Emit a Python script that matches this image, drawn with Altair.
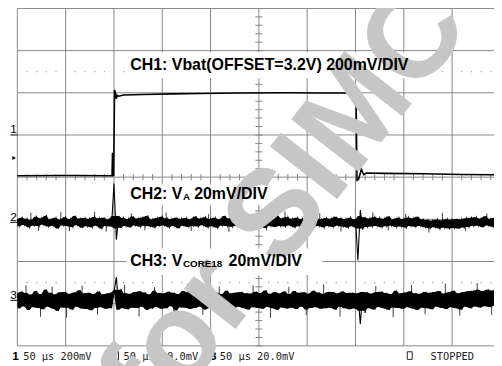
import altair as alt
import pandas as pd

# ---------------- data (time in µs, 50 µs/div; vertical in divisions) ----------------
grid_t = [-250, -200, -150, -100, -50, 0, 50, 100, 150, 200, 250]
grid_div = [-4, -3, -2, -1, 0, 1, 2, 3, 4]
minor_t = [t for t in range(-250, 251, 10) if t % 50 != 0]
minor_div = [round(-4 + 0.2 * k, 1) for k in range(41)]
dot_levels = [2.5, -2.5]

# CH1: Vbat (offset 3.2 V, 200 mV/div), volts
ch1_t = [-250, -200, -152, -151.5, -151.0, -150.3, -149.4, -148.5, -147.6, -146.6, -145,
         -140, -120, -90, -60, -20, 30, 60, 92, 97, 100.6, 101.6, 103.2, 106.1, 108.5,
         111.2, 130, 170, 210, 250]
ch1_v = [3.007, 3.008, 3.007, 3.116, 3.007, 3.008, 3.413, 3.400, 3.372, 3.388, 3.384,
         3.390, 3.392, 3.395, 3.397, 3.399, 3.400, 3.399, 3.399, 3.396, 3.392, 2.985, 2.990,
         3.037, 3.012, 3.020, 3.018, 3.016, 3.013, 3.011]

# CH2 / CH3 samples every 2.5 µs, mV (20 mV/div)
noise_t = [-250 + 2.5 * i for i in range(200)]
ch2_mv = [
    1.4, -1.9, 2.2, -1.3, 1.7, -2.4, 1.1, -1.6, 2.6, -1.8,
    1.9, -1.2, 3.4, -2.0, 1.5, -1.7, 2.1, -2.9, 1.3, -1.5,
    2.4, -1.8, 1.6, -2.2, 3.1, -1.4, 1.8, -2.6, 2.0, -1.9,
    1.7, -2.3, 2.5, -1.6, 1.9, -3.2, 2.2, -1.7, 1.5, -2.0,
    18.4, -8.2, 3.0, -2.6, 2.1, -1.8, 1.6, -2.4, 2.7, -1.5,
    1.8, -2.1, 2.3, -1.6, 3.3, -1.9, 1.4, -2.5, 2.0, -1.7,
    2.6, -1.5, 1.9, -2.3, 1.6, -1.8, 2.2, -2.8, 1.7, -1.6,
    2.0, -2.2, 1.5, -1.7, 2.8, -2.0, 1.8, -1.4, 2.4, -2.3,
    1.6, -1.9, 2.1, -2.6, 1.4, -1.6, 3.0, -1.8, 1.9, -2.1,
    2.3, -1.7, 1.7, -2.4, 2.0, -1.5, 2.6, -2.0, 1.5, -1.9,
    2.2, -1.6, 1.8, -2.7, 2.4, -1.8, 1.6, -2.2, 3.2, -1.7,
    1.9, -2.0, 2.5, -1.5, 1.7, -2.3, 2.1, -1.9, 1.6, -2.5,
    2.7, -1.6, 1.8, -2.1, 2.3, -1.7, 1.5, -2.4, 2.0, -1.8,
    1.7, -2.2, 2.6, -1.6, 1.9, -2.0, 1.6, -2.5, 2.2, -1.9,
    1.5, -18.0, 5.8, -3.5, 2.4, -2.2, 1.8, -2.0, 2.5, -1.7,
    2.0, -2.3, 1.7, -1.9, 2.8, -1.6, 1.5, -2.2, 2.1, -2.0,
    1.6, -2.5, 2.3, -1.8, 1.9, -2.1, 2.6, -1.7, 1.4, -2.3,
    1.1, -2.8, 0.9, -2.4, 1.3, -3.1, 1.0, -2.6, 1.5, -2.9,
    1.2, -2.7, 1.6, -3.0, 1.4, -2.5, 1.9, -2.2, 2.1, -1.8,
    2.4, -1.6, 1.8, -2.3, 2.9, -1.5, 1.7, -2.1, 2.2, -1.8,
]
ch3_mv = [
    3.2, -3.8, 4.1, -2.9, 3.5, -4.6, 2.8, -3.3, 4.4, -3.6,
    3.0, -4.2, 5.2, -3.1, 3.6, -3.9, 2.9, -5.0, 3.8, -3.4,
    4.0, -3.5, 3.1, -4.4, 3.7, -3.0, 4.8, -3.9, 3.3, -4.1,
    3.6, -4.7, 3.0, -3.6, 4.2, -3.3, 2.9, -4.0, 3.4, -3.7,
    3.8, 11.0, -4.5, 5.5, -3.8, 3.4, -4.2, 3.1, -3.5, 3.9,
    -3.6, 4.3, -3.1, 3.7, -4.5, 2.9, -3.9, 4.6, -3.2, 3.5,
    -4.0, 3.3, -3.7, 4.1, -2.8, 3.6, -4.8, 3.0, -3.4, 4.4,
    -3.5, 3.8, -4.1, 3.2, -3.6, 4.9, -3.0, 3.5, -4.3, 3.1,
    -3.8, 4.2, -3.3, 3.6, -4.6, 3.0, -3.5, 4.5, -3.9, 3.3,
    -4.2, 3.7, -3.1, 4.0, -3.7, 3.4, -4.4, 3.2, -3.3, 4.1,
    -3.6, 3.5, -4.0, 4.7, -3.2, 3.1, -3.8, 3.9, -4.5, 3.3,
    -3.4, 4.2, -3.9, 3.0, -3.5, 4.4, -4.1, 3.6, -3.0, 3.8,
    -4.3, 3.2, -3.6, 4.5, -3.3, 3.7, -4.0, 3.1, -3.7, 4.0,
    -3.5, 3.9, -4.4, 3.3, -3.1, 4.2, -3.8, 3.5, -4.2, 3.6,
    -3.9, 3.4, -11.3, 4.0, -6.0, 3.8, -3.7, 3.2, -4.3, 3.9,
    -3.2, 4.1, -3.8, 3.5, -4.5, 3.0, -3.4, 4.6, -3.6, 3.3,
    -4.0, 3.7, -3.3, 4.3, -3.9, 3.4, -4.6, 3.1, -3.5, 4.0,
    -3.7, 3.6, -4.2, 3.9, -3.0, 4.4, -3.6, 3.2, -4.1, 3.8,
    -3.3, 4.5, -3.8, 3.4, -4.4, 3.9, -3.1, 4.3, -3.7, 4.6,
    -2.9, 5.0, -3.4, 4.4, -2.8, 5.2, -3.2, 4.7, -2.6, 4.9,
]
# isolated noise hairs sticking out of the bands (µs, mV)
ch2_hair_t = [-236, -228, -205, -196, -170, -158, -132, -118, -96, -70, -52, -31, -12,
              8, 27, 46, 63, 85, 118, 134, 152, 176, 190, 214, 236]
ch2_hair_mv = [4.5, -4.0, 4.8, -4.2, 5.0, -4.4, 4.2, -3.8, 4.6, -4.1, 3.9, -4.6, 4.4,
               -3.9, 5.2, -4.0, 4.3, -4.4, 4.7, -3.7, 4.0, -4.8, 4.5, -4.2, 4.1]
ch3_hair_t = [-241, -226, -214, -199, -183, -167, -139, -124, -108, -88, -74, -58, -41, -27,
              -6, 12, 31, 49, 67, 84, 121, 139, 158, 172, 193, 208, 226, 241]
ch3_hair_mv = [7.2, -7.8, 6.5, -8.2, 7.0, -6.9, 7.4, -7.6, 6.2, -8.0, 7.8, -6.8, 6.6, -7.4,
               7.1, -8.3, 6.4, -7.0, 7.6, -7.7, 6.8, -8.1, 7.3, -6.6, 7.9, -7.3, 8.2, -6.9]

CH1_OFFSET, CH1_VDIV, CH1_REF = 3.2, 0.2, 1.0
CH2_MVDIV, CH2_REF, CH2_CORE = 20.0, -1.07, 3.0
CH3_MVDIV, CH3_REF, CH3_CORE = 20.0, -2.92, 5.0

ch1_label = "CH1: Vbat(OFFSET=3.2V) 200mV/DIV"
status = ["50 µs 200mV", "50 µs 20.0mV", "50 µs 20.0mV", "STOPPED"]
watermark = "for SIMCOM"

# ---------------- scales ----------------
xs = alt.Scale(domain=[-250, 250], range=[9.5, 500.5], nice=False, zero=False)
ys = alt.Scale(domain=[-4, 4], range=[340.5, -2.5], nice=False, zero=False)
ONE = pd.DataFrame({"k": [0]})
GRID = "#858585"


def X(f):
    return alt.X(f, type="quantitative", scale=xs, axis=None)


def Y(f):
    return alt.Y(f, type="quantitative", scale=ys, axis=None)


def XD(t):
    return alt.XDatum(t, scale=xs, axis=None)


def YD(v):
    return alt.YDatum(v, scale=ys, axis=None)


def txt(s, t, v, size, weight="normal", font="Liberation Sans", color="black",
        align="left", baseline="alphabetic", angle=0):
    return alt.Chart(ONE).mark_text(
        text=s, font=font, fontSize=size, fontWeight=weight, color=color,
        align=align, baseline=baseline, angle=angle
    ).encode(x=XD(t), y=YD(v))


def box(t1, t2, v1, v2, **kw):
    return alt.Chart(ONE).mark_rect(**kw).encode(
        x=XD(t1), x2=alt.X2Datum(t2), y=YD(v1), y2=alt.Y2Datum(v2))


def hline(t1, t2, v, **kw):
    return alt.Chart(ONE).mark_rule(**kw).encode(x=XD(t1), x2=alt.X2Datum(t2), y=YD(v))


def band(mv, ref, mvdiv, core):
    """Dense trace core: envelope of each pair of neighbouring samples (spikes left to the line)."""
    c = [max(-core, min(core, m)) for m in mv]
    nxt = c[1:] + c[-1:]
    return pd.DataFrame({
        "t": noise_t,
        "hi": [ref + max(a, b) / mvdiv for a, b in zip(c, nxt)],
        "lo": [ref + min(a, b) / mvdiv for a, b in zip(c, nxt)],
    })


layers = []
# grid
layers.append(alt.Chart(pd.DataFrame({"t": grid_t})).mark_rule(color=GRID, strokeWidth=1)
              .encode(x=X("t"), y=YD(-4), y2=alt.Y2Datum(4)))
layers.append(alt.Chart(pd.DataFrame({"v": grid_div})).mark_rule(color=GRID, strokeWidth=1)
              .encode(y=Y("v"), x=XD(-250), x2=alt.X2Datum(250)))
# center-axis minor ticks
layers.append(alt.Chart(pd.DataFrame({"t": minor_t})).mark_rule(color=GRID, strokeWidth=1)
              .encode(x=X("t"), y=YD(-0.075), y2=alt.Y2Datum(0.075)))
layers.append(alt.Chart(pd.DataFrame({"v": minor_div})).mark_rule(color=GRID, strokeWidth=1)
              .encode(y=Y("v"), x=XD(-3.6), x2=alt.X2Datum(3.6)))
# dotted cursor rows
dots = pd.DataFrame([(t, v) for v in dot_levels for t in minor_t], columns=["t", "v"])
layers.append(alt.Chart(dots).mark_square(size=1.3, color="#8a8a8a", opacity=1)
              .encode(x=X("t"), y=Y("v")))
# white label boxes
layers.append(box(-138.0, 163.4, 2.962, 2.344, color="white"))
layers.append(box(-138.0, 12.7, -0.175, -0.665, color="white"))
layers.append(box(-137.0, 65.7, -1.691, -2.321, color="white"))

# traces
ch1 = pd.DataFrame({"t": ch1_t,
                    "v": [(v - CH1_OFFSET) / CH1_VDIV + CH1_REF for v in ch1_v]})
layers.append(alt.Chart(ch1).mark_line(color="black", strokeWidth=1.6)
              .encode(x=X("t"), y=Y("v"), order="t:Q"))
for mv, ref, mvdiv, core, ht, hmv in (
        (ch2_mv, CH2_REF, CH2_MVDIV, CH2_CORE, ch2_hair_t, ch2_hair_mv),
        (ch3_mv, CH3_REF, CH3_MVDIV, CH3_CORE, ch3_hair_t, ch3_hair_mv)):
    hairs = pd.DataFrame({"t": ht, "v": [ref + m / mvdiv for m in hmv]})
    layers.append(alt.Chart(hairs).mark_rule(color="#3a3a3a", strokeWidth=1)
                  .encode(x=X("t"), y=Y("v"), y2=alt.Y2Datum(ref)))
    layers.append(alt.Chart(band(mv, ref, mvdiv, core)).mark_area(color="black", opacity=1)
                  .encode(x=X("t"), y=Y("hi"), y2=alt.Y2("lo")))
    line = pd.DataFrame({"t": noise_t, "v": [ref + m / mvdiv for m in mv]})
    layers.append(alt.Chart(line).mark_line(color="black", strokeWidth=1.1)
                  .encode(x=X("t"), y=Y("v"), order="t:Q"))

# left channel markers
layers.append(txt("1", -250.6, CH1_REF + 0.04, 12, align="right"))
layers.append(hline(-257.2, -249.6, CH1_REF, color="black", strokeWidth=1))
layers.append(txt("2", -250.6, CH2_REF + 0.04, 12, align="right"))
layers.append(hline(-257.2, -249.6, CH2_REF, color="black", strokeWidth=1))
layers.append(txt("3", -250.6, CH3_REF + 0.04, 12, align="right"))
layers.append(hline(-257.2, -249.6, CH3_REF, color="black", strokeWidth=1))
layers.append(alt.Chart(ONE).mark_point(shape="triangle-right", filled=True, size=16,
                                        color="black", opacity=1)
              .encode(x=XD(-253.3), y=YD(0.455)))

# status line
SB = -4.327
MONO = "DejaVu Sans Mono"
layers.append(txt("1", -255.4, SB, 12, weight="bold"))
layers.append(txt(status[0], -243.9, SB, 10.5, font=MONO, color="#222222"))
layers.append(box(-153.3, -145.3, -4.07, -4.35, fillOpacity=0, stroke="#222222", strokeWidth=1))
layers.append(txt("2", -149.3, SB + 0.02, 9, weight="bold", align="center"))
layers.append(txt(status[1], -140.0, SB, 10.5, font=MONO, color="#222222"))
layers.append(txt("3", -50.6, SB, 12, weight="bold"))
layers.append(txt(status[2], -40.4, SB, 10.5, font=MONO, color="#222222"))
layers.append(box(153.6, 158.7, -4.14, -4.32, fillOpacity=0, stroke="#222222", strokeWidth=1))
layers.append(txt(status[3], 177.7, SB, 10.5, font=MONO, color="#222222"))

# watermark
layers.append(txt(watermark, 91.2, 1.224, 126, weight="bold", color="#c6c6c6",
                  align="center", baseline="middle", angle=308))

# channel labels
layers.append(txt(ch1_label, -133.2, 2.531, 16.2, weight="bold"))
layers.append(txt("CH2: V", -133.2, -0.525, 16.2, weight="bold"))
layers.append(txt("A", -78.6, -0.548, 10, weight="bold"))
layers.append(txt("20mV/DIV", -67.0, -0.525, 16.2, weight="bold"))
layers.append(txt("CH3: V", -133.2, -2.111, 16.2, weight="bold"))
layers.append(txt("CORE18", -78.6, -2.122, 10, weight="bold"))
layers.append(txt("20mV/DIV", -31.4, -2.111, 16.2, weight="bold"))

chart = alt.layer(*layers).properties(
    width=494, height=358, padding=0, background="white",
    autosize=alt.AutoSizeParams(type="none"),
).configure_view(stroke=None)

chart.save("out.html", embed_options={"renderer": "svg", "actions": False})
